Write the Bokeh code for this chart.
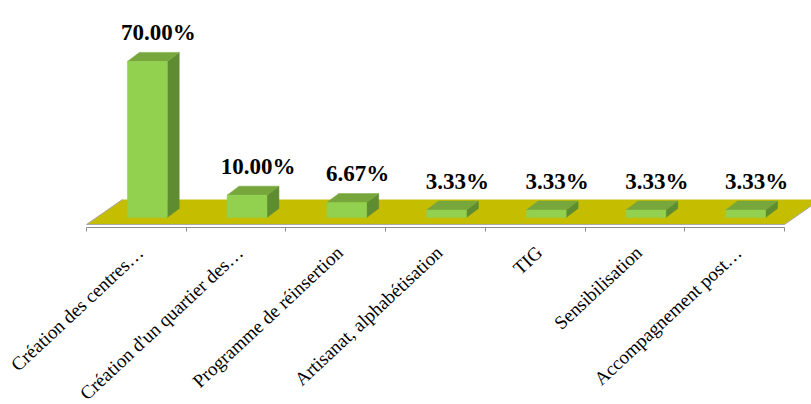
import math
from bokeh.plotting import figure
from bokeh.models import Range1d, FixedTicker, ColumnDataSource
from bokeh.core.properties import value
from bokeh.embed import file_html
from bokeh.resources import INLINE

# ---- data ----
categories = [
    "Création des centres…",
    "Création d'un quartier des…",
    "Programme de réinsertion",
    "Artisanat, alphabétisation",
    "TIG",
    "Sensibilisation",
    "Accompagnement post…",
]
values = [70.00, 10.00, 6.67, 3.33, 3.33, 3.33, 3.33]
value_labels = ["70.00%", "10.00%", "6.67%", "3.33%", "3.33%", "3.33%", "3.33%"]

# ---- geometry / style ----
n = len(categories)
bar_left, bar_right = 0.41, 0.81      # front face within category slot
depth_dx, depth_dy = 0.12, 4.04       # 3D depth offset of bars (data units)
floor_front, floor_back = -3.14, 8.07
floor_dx = 0.36
AXIS_Y = -4.484
Y_MIN, Y_MAX = -83.86, 97.31

FRONT = "#92D050"
TOP = "#76A63C"
SIDE = "#5E8C30"
FLOOR = "#C4BD00"
GREY = "#8C8C8C"

p = figure(width=811, height=404, output_backend="svg", toolbar_location=None,
           x_range=Range1d(-0.8625, 7.2708), y_range=Range1d(Y_MIN, Y_MAX),
           min_border_left=0, min_border_right=0, min_border_top=0,
           min_border_bottom=0)
p.outline_line_color = None
p.xgrid.visible = False
p.ygrid.visible = False
p.yaxis.visible = False
p.background_fill_color = "white"
p.border_fill_color = "white"

# floor
fx = [0, n, n + floor_dx, floor_dx]
fy = [floor_front, floor_front, floor_back, floor_back]
p.patch(fx, fy, fill_color=FLOOR, line_color=None)
p.line([floor_dx, 0, n, n + floor_dx], [floor_back, floor_front, floor_front, floor_back],
       line_color="#A8A8A8", line_width=1)

# bars
front_xs, front_ys, side_xs, side_ys, top_xs, top_ys = [], [], [], [], [], []
for i, v in enumerate(values):
    l, r = i + bar_left, i + bar_right
    front_xs.append([l, r, r, l]); front_ys.append([0, 0, v, v])
    side_xs.append([r, r + depth_dx, r + depth_dx, r])
    side_ys.append([0, depth_dy, v + depth_dy, v])
    top_xs.append([l, r, r + depth_dx, l + depth_dx])
    top_ys.append([v, v, v + depth_dy, v + depth_dy])

p.patches(side_xs, side_ys, fill_color=SIDE, line_color=SIDE, line_width=0.5)
p.patches(top_xs, top_ys, fill_color=TOP, line_color=TOP, line_width=0.5)
p.patches(front_xs, front_ys, fill_color=FRONT, line_color=FRONT, line_width=0.5)

# value labels
src = ColumnDataSource(dict(x=[i + 0.72 for i in range(n)],
                            y=[v + 13.0 for v in values],
                            t=value_labels))
p.text(x="x", y="y", text="t", source=src, text_align="center",
       text_baseline="alphabetic", text_font=value("Liberation Serif"),
       text_font_style="bold", text_font_size="23px", text_color="black")

# x axis drawn at a fixed location just under the floor
ax = p.xaxis[0]
ax.fixed_location = AXIS_Y
ax.ticker = FixedTicker(ticks=[i + 0.54 for i in range(n)],
                        minor_ticks=list(range(n + 1)))
ax.major_label_overrides = {i + 0.54: c for i, c in enumerate(categories)}
ax.bounds = (0, n)
ax.axis_line_color = GREY
ax.axis_line_width = 1
ax.major_tick_line_color = None
ax.major_tick_in = 0
ax.major_tick_out = 0
ax.minor_tick_line_color = GREY
ax.minor_tick_in = 0
ax.minor_tick_out = 4
ax.major_label_standoff = 18
ax.major_label_orientation = math.radians(43)
ax.major_label_text_font = "Liberation Serif"
ax.major_label_text_font_size = "19px"
ax.major_label_text_color = "black"

open("out.html", "w").write(file_html(p, INLINE))
